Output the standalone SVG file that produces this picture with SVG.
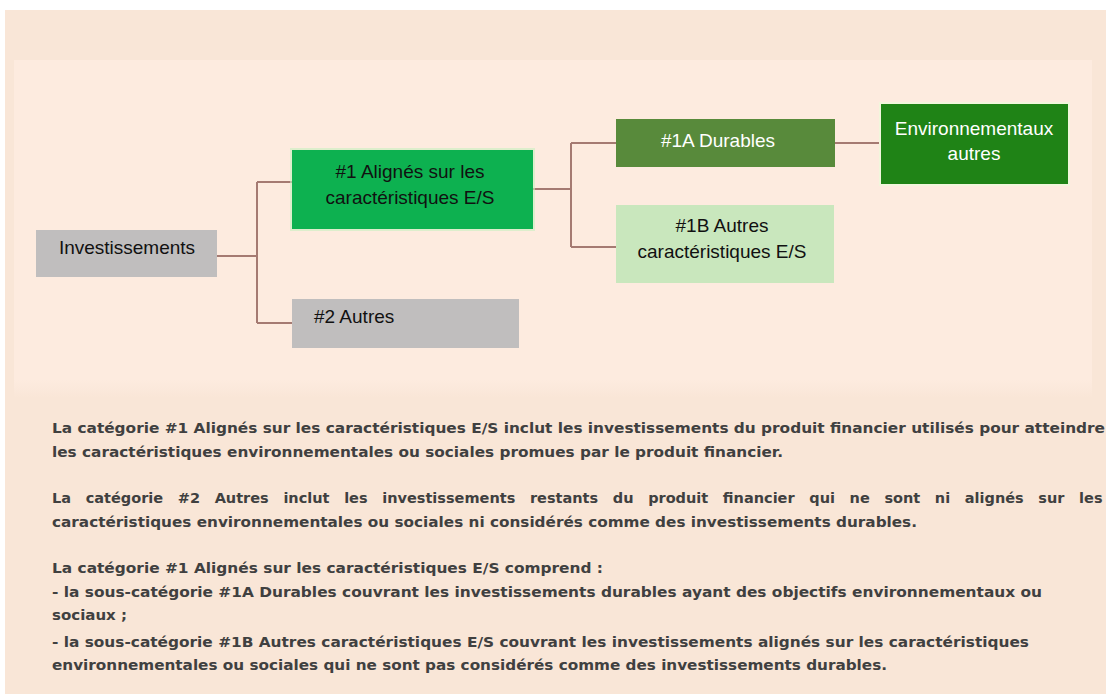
<svg xmlns="http://www.w3.org/2000/svg" width="1106" height="694" viewBox="0 0 1106 694">
<defs>
<style>
.box{font-family:"Liberation Sans",Arial,sans-serif;font-size:19px;text-anchor:middle}
.dark{fill:#111}
.light{fill:#fff}
.conn{fill:none;stroke:#a57a72;stroke-width:2}
.body{font-family:"DejaVu Sans",sans-serif;font-weight:bold;font-size:14.5px;fill:#404040}
</style>
<linearGradient id="fadeBottom" x1="0" y1="0" x2="0" y2="1">
<stop offset="0" stop-color="#fdebdf"/>
<stop offset="1" stop-color="#f9e6d7"/>
</linearGradient>
</defs>
<rect x="0" y="0" width="1106" height="694" fill="#ffffff"/>
<rect x="5" y="10" width="1101" height="684" fill="#f9e6d7"/>
<rect x="14" y="60" width="1078" height="320" fill="#fdebdf"/>
<rect x="14" y="380" width="1078" height="18" fill="url(#fadeBottom)"/>

<g id="connectors">
<path class="conn" d="M217 256 H257 M257 182 V323 M257 182 H292 M257 323 H292"/>
<path class="conn" d="M533 189 H571 M571 143 V247 M571 143 H616 M571 247 H616"/>
<path class="conn" d="M835 143 H881"/>
</g>

<g id="node-investissements">
<rect x="36" y="230" width="181" height="47" fill="#c0bebe"/>
<text class="box dark" x="127" y="254">Investissements</text>
</g>

<g id="node-1-alignes">
<rect x="290" y="148" width="245" height="83" fill="#c8f0c0" opacity="0.6"/>
<rect x="292" y="150" width="241" height="79" fill="#0db150"/>
<text class="box dark" x="410" y="178">#1 Alignés sur les</text>
<text class="box dark" x="410" y="204">caractéristiques E/S</text>
</g>

<g id="node-2-autres">
<rect x="292" y="299" width="227" height="49" fill="#c0bebe"/>
<text class="box dark" x="314" y="323" style="text-anchor:start">#2 Autres</text>
</g>

<g id="node-1a-durables">
<rect x="616" y="119" width="219" height="48" fill="#588a3b"/>
<text class="box light" x="718" y="147">#1A Durables</text>
</g>

<g id="node-env-autres">
<rect x="879" y="102" width="191" height="84" fill="#f2f6dc"/>
<rect x="881" y="104" width="187" height="80" fill="#1f8316"/>
<text class="box light" x="974" y="135">Environnementaux</text>
<text class="box light" x="974" y="160">autres</text>
</g>

<g id="node-1b-autres">
<rect x="616" y="205" width="218" height="78" fill="#c9e7bd"/>
<text class="box dark" x="722" y="232">#1B Autres</text>
<text class="box dark" x="722" y="258">caractéristiques E/S</text>
</g>

<g id="legend-text">
<text class="body" x="52" y="433" textLength="1053" lengthAdjust="spacingAndGlyphs">La catégorie #1 Alignés sur les caractéristiques E/S inclut les investissements du produit financier utilisés pour atteindre</text>
<text class="body" x="52" y="457" textLength="731" lengthAdjust="spacingAndGlyphs">les caractéristiques environnementales ou sociales promues par le produit financier.</text>
<text class="body" x="52" y="503" style="word-spacing:9.6px">La catégorie #2 Autres inclut les investissements restants du produit financier qui ne sont ni alignés sur les</text>
<text class="body" x="52" y="527" textLength="865" lengthAdjust="spacingAndGlyphs">caractéristiques environnementales ou sociales ni considérés comme des investissements durables.</text>
<text class="body" x="52" y="573" textLength="551" lengthAdjust="spacingAndGlyphs">La catégorie #1 Alignés sur les caractéristiques E/S comprend :</text>
<text class="body" x="52" y="597" textLength="990" lengthAdjust="spacingAndGlyphs">- la sous-catégorie #1A Durables couvrant les investissements durables ayant des objectifs environnementaux ou</text>
<text class="body" x="52" y="620" textLength="75" lengthAdjust="spacingAndGlyphs">sociaux ;</text>
<text class="body" x="52" y="647" textLength="977" lengthAdjust="spacingAndGlyphs">- la sous-catégorie #1B Autres caractéristiques E/S couvrant les investissements alignés sur les caractéristiques</text>
<text class="body" x="52" y="670" textLength="835" lengthAdjust="spacingAndGlyphs">environnementales ou sociales qui ne sont pas considérés comme des investissements durables.</text>
</g>
</svg>
